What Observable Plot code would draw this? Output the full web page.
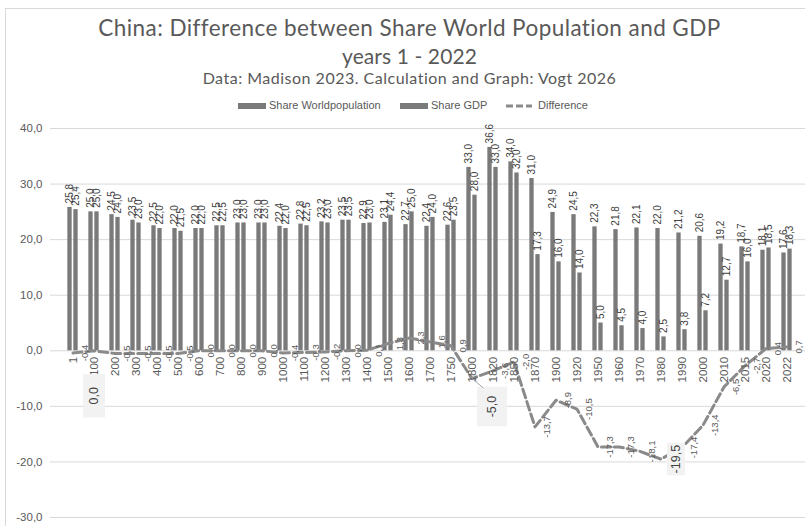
<!DOCTYPE html>
<html><head><meta charset="utf-8">
<script src="https://cdn.jsdelivr.net/npm/d3@7"></script>
<script src="https://cdn.jsdelivr.net/npm/@observablehq/plot@0.6"></script>
<style>
html,body{margin:0;padding:0;background:#fff;}
#wrap{position:relative;width:805px;height:526px;overflow:hidden;font-family:"Liberation Sans",Arial,sans-serif;}
#frame{position:absolute;left:5px;top:8px;width:900px;height:600px;border-top:1px solid #d9d9d9;border-left:1px solid #d9d9d9;}
.t{position:absolute;left:7px;width:805px;text-align:center;font-family:Lato,"Open Sans",sans-serif;font-weight:400;color:#595959;white-space:nowrap;}
.lg{position:absolute;font-size:11px;line-height:11px;color:#595959;white-space:nowrap;}
.sw{position:absolute;height:6px;background:#7a7a7a;}
#chart{position:absolute;left:0;top:115px;}
</style></head>
<body>
<div id="wrap">
  <div id="frame"></div>
  <div class="t" data-w="622" style="top:17px;font-size:22.5px;line-height:22.5px"><span>China: Difference between Share World Population and GDP</span></div>
  <div class="t" data-w="135" style="top:45.2px;font-size:21px;line-height:21px"><span>years 1 - 2022</span></div>
  <div class="t" data-w="414" style="top:69.5px;font-size:16px;line-height:16px"><span>Data: Madison 2023. Calculation and Graph: Vogt 2026</span></div>
  <div class="sw" style="left:238px;top:103px;width:28px"></div>
  <div class="lg" style="left:269px;top:100px">Share Worldpopulation</div>
  <div class="sw" style="left:400px;top:103px;width:28px"></div>
  <div class="lg" style="left:431px;top:100px">Share GDP</div>
  <svg style="position:absolute;left:505px;top:100px" width="28" height="12"><line x1="1" x2="27" y1="6" y2="6" stroke="#8a8a8a" stroke-width="3" stroke-dasharray="7,3"/></svg>
  <div class="lg" style="left:538px;top:100px">Difference</div>
  <div id="chart"></div>
</div>
<script>
const years = ["1","100","200","300","400","500","600","700","800","900","1000","1100","1200","1300","1400","1500","1600","1700","1750","1800","1820","1850","1870","1900","1920","1950","1960","1970","1980","1990","2000","2010","2015","2020","2022"];
const popShare = [25.8,25.0,24.5,23.5,22.5,22.0,22.0,22.5,23.0,23.0,22.4,22.8,23.2,23.5,22.9,23.1,22.7,22.4,22.6,33.0,36.6,34.0,31.0,24.9,24.5,22.3,21.8,22.1,22.0,21.2,20.6,19.2,18.7,18.1,17.6];
const gdpShare = [25.4,25.0,24.0,23.0,22.0,21.5,22.0,22.5,23.0,23.0,22.0,22.5,23.0,23.5,23.0,24.4,25.0,24.0,23.5,28.0,33.0,32.0,17.3,16.0,14.0,5.0,4.5,4.0,2.5,3.8,7.2,12.7,16.0,18.5,18.3];
const difference = [-0.4,0.0,-0.5,-0.5,-0.5,-0.5,0.0,0.0,0.0,0.0,-0.4,-0.3,-0.2,0.0,0.1,1.3,2.3,1.6,0.9,-5.0,-3.6,-2.0,-13.7,-8.9,-10.5,-17.3,-17.3,-18.1,-19.5,-17.4,-13.4,-6.5,-2.7,0.4,0.7];
const yTicks = [-30,-20,-10,0,10,20,30,40];
const calloutYears = ["100","1800","1980"];

// fit the heading lines to the reference widths with letter spacing
document.querySelectorAll(".t").forEach(el => {
  const span = el.querySelector("span");
  const w = span.getBoundingClientRect().width;
  const n = span.textContent.length;
  el.style.letterSpacing = ((+el.dataset.w - w) / n) + "px";
});

const data = years.map((y,i)=>({year:y, pop:popShare[i], gdp:gdpShare[i], diff:difference[i]}));
const fmt = v => v.toFixed(1).replace(".", ",");

const W = 805, H = 411, mL = 50, mR = -4;
const step = (W - mR - mL) / years.length;
const half = step / 2, barW = 5, gap = 1;

// callout label styling (offsets and box padding, in pixels)
const calloutStyle = [
  {year:"100", dx:0, dy:45, along:13, across:4, leader:false},
  {year:"1800", dx:20, dy:28, along:9, across:8, leader:true},
  {year:"1980", dx:15, dy:0, along:2, across:2, leader:false}
];

const marks = [
  Plot.gridY(yTicks, {stroke:"#d9d9d9", strokeOpacity:1, strokeWidth:1}),
  Plot.axisY(yTicks, {tickSize:0, tickPadding:8, tickFormat:fmt, fontSize:11.5, fill:"#595959"}),
  Plot.barY(data, {x:"year", y:"pop", fill:"#7a7a7a", insetLeft: half - gap/2 - barW, insetRight: half + gap/2}),
  Plot.barY(data, {x:"year", y:"gdp", fill:"#7a7a7a", insetLeft: half + gap/2, insetRight: half - gap/2 - barW}),
  Plot.lineY(data, {x:"year", y:"diff", stroke:"#8a8a8a", strokeWidth:3, strokeDasharray:"9,4"}),
  Plot.text(data, {x:"year", y:"pop", text:d=>fmt(d.pop), rotate:-90, textAnchor:"start", lineAnchor:"middle", dx:-3, dy:-4, fontSize:10, fill:"#404040"}),
  Plot.text(data, {x:"year", y:"gdp", text:d=>fmt(d.gdp), rotate:-90, textAnchor:"start", lineAnchor:"middle", dx:3, dy:-4, fontSize:10, fill:"#404040"}),
  Plot.text(data.filter(d=>!calloutYears.includes(d.year)), {x:"year", y:"diff", text:d=>fmt(d.diff), rotate:-90, textAnchor:"middle", lineAnchor:"middle", dx:12, fontSize:9.5, fill:"#595959"}),
  Plot.text(data, {x:"year", y:()=>0, text:"year", rotate:-90, textAnchor:"end", lineAnchor:"middle", dy:6, fontSize:11.5, fill:"#595959"}),
  ...calloutStyle.map(c => Plot.text(data.filter(d=>d.year===c.year), {x:"year", y:"diff", text:d=>fmt(d.diff), rotate:-90, textAnchor:"middle", lineAnchor:"middle", dx:c.dx, dy:c.dy, fontSize:12.5, fill:"#404040", ariaDescription:"callout-" + c.year}))
];

const chart = Plot.plot({
  width: W, height: H,
  marginLeft: mL, marginRight: mR, marginTop: 13, marginBottom: 9,
  style: {fontFamily:"Liberation Sans, Arial, sans-serif", color:"#595959", background:"transparent", overflow:"visible"},
  x: {type:"band", domain: years, padding: 0, axis: null},
  y: {domain: [-30, 40], axis: null},
  marks
});
document.getElementById("chart").appendChild(chart);

// light grey boxes behind the callout labels (+ leader line where the reference has one)
const NS = "http://www.w3.org/2000/svg";
const xs = chart.scale("x"), ys = chart.scale("y");
calloutStyle.forEach(c => {
  const g = chart.querySelector(`g[aria-description="callout-${c.year}"]`);
  if (!g) return;
  g.querySelectorAll("text").forEach(t => {
    const b = t.getBBox();
    const r = document.createElementNS(NS, "rect");
    r.setAttribute("x", b.x - c.along); r.setAttribute("y", b.y - c.across);
    r.setAttribute("width", b.width + 2*c.along); r.setAttribute("height", b.height + 2*c.across);
    r.setAttribute("fill", "#f2f2f2");
    const tr = t.getAttribute("transform"); if (tr) r.setAttribute("transform", tr);
    t.parentNode.insertBefore(r, t);
  });
  if (c.leader) {
    const d = data.find(e => e.year === c.year);
    const px = xs.apply(c.year) + xs.bandwidth/2, py = ys.apply(d.diff);
    const l = document.createElementNS(NS, "line");
    l.setAttribute("x1", px); l.setAttribute("y1", py);
    l.setAttribute("x2", px + 12); l.setAttribute("y2", py + 10);
    l.setAttribute("stroke", "#a6a6a6"); l.setAttribute("stroke-width", 1);
    chart.appendChild(l);
  }
});
</script>
</body></html>
